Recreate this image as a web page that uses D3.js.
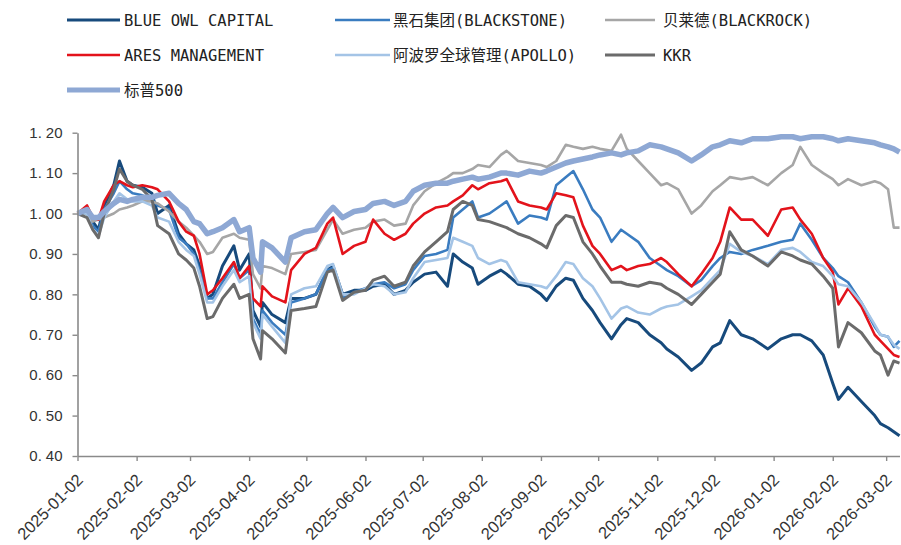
<!DOCTYPE html>
<html>
<head>
<meta charset="utf-8">
<script src="https://cdn.jsdelivr.net/npm/d3@7"></script>
<style>
body { margin: 0; background: #fff; }
</style>
</head>
<body>
<div id="chart-area"></div>
<script>
const MARGINS = { top: 132.7, right: 1, left: 77.5, bottom: 89 };
const WIDTH = 901, HEIGHT = 545;
const CHART_WIDTH = WIDTH - MARGINS.left - MARGINS.right;
const CHART_HEIGHT = HEIGHT - MARGINS.top - MARGINS.bottom;

// sample dates (roughly weekly plus turning points)
const dates = [
  "2025-01-02","2025-01-07","2025-01-10","2025-01-13","2025-01-16","2025-01-21","2025-01-24","2025-01-28","2025-01-31","2025-02-05",
  "2025-02-10","2025-02-13","2025-02-19","2025-02-24","2025-02-28","2025-03-04","2025-03-07","2025-03-11","2025-03-14","2025-03-19",
  "2025-03-25","2025-03-28","2025-04-02","2025-04-04","2025-04-08","2025-04-09","2025-04-14","2025-04-21","2025-04-24","2025-05-01",
  "2025-05-07","2025-05-13","2025-05-16","2025-05-21","2025-05-27","2025-06-02","2025-06-06","2025-06-12","2025-06-17","2025-06-23",
  "2025-06-27","2025-07-03","2025-07-09","2025-07-15","2025-07-18","2025-07-23","2025-07-28","2025-07-31","2025-08-06","2025-08-12",
  "2025-08-15","2025-08-21","2025-08-27","2025-09-02","2025-09-05","2025-09-10","2025-09-15","2025-09-19","2025-09-24","2025-09-29",
  "2025-10-03","2025-10-09","2025-10-14","2025-10-17","2025-10-23","2025-10-29","2025-11-04","2025-11-07","2025-11-13","2025-11-20",
  "2025-11-25","2025-12-01","2025-12-05","2025-12-10","2025-12-16","2025-12-22","2025-12-30","2026-01-06","2026-01-12","2026-01-16",
  "2026-01-22","2026-01-28","2026-02-02","2026-02-05","2026-02-10","2026-02-17","2026-02-24","2026-02-27","2026-03-03","2026-03-06",
  "2026-03-09"
];

const blueOwl = [
  1.00,1.01,0.98,0.96,1.02,1.07,1.13,1.08,1.07,1.065,
  1.05,1.00,1.02,0.95,0.925,0.91,0.87,0.79,0.80,0.87,
  0.92,0.86,0.90,0.76,0.72,0.78,0.75,0.73,0.79,0.79,
  0.80,0.86,0.87,0.80,0.81,0.81,0.82,0.825,0.80,0.81,
  0.83,0.85,0.855,0.82,0.90,0.88,0.865,0.825,0.845,0.86,
  0.85,0.825,0.82,0.80,0.785,0.82,0.84,0.835,0.79,0.76,
  0.73,0.69,0.725,0.74,0.73,0.70,0.68,0.665,0.645,0.612,
  0.63,0.67,0.68,0.735,0.70,0.69,0.665,0.69,0.70,0.70,
  0.685,0.65,0.58,0.54,0.57,0.535,0.50,0.48,0.47,0.46,
  0.45
];
const blackstone = [
  1.00,1.00,0.97,0.955,1.01,1.05,1.08,1.06,1.05,1.045,
  1.035,1.02,1.01,0.94,0.925,0.90,0.86,0.79,0.79,0.83,
  0.875,0.84,0.86,0.74,0.70,0.76,0.73,0.70,0.78,0.79,
  0.80,0.86,0.865,0.79,0.805,0.815,0.825,0.83,0.815,0.825,
  0.86,0.895,0.90,0.91,0.99,1.01,1.03,0.99,1.00,1.02,
  1.03,0.975,0.995,0.99,0.985,1.07,1.09,1.105,1.06,1.01,
  0.99,0.93,0.96,0.95,0.93,0.89,0.87,0.86,0.845,0.82,
  0.835,0.87,0.89,0.905,0.90,0.91,0.92,0.93,0.935,0.975,
  0.935,0.89,0.865,0.845,0.83,0.78,0.72,0.70,0.695,0.67,
  0.685
];
const blackrock = [
  1.00,1.00,0.98,0.985,0.99,1.00,1.01,1.015,1.02,1.03,
  1.03,1.025,1.005,0.98,0.965,0.945,0.93,0.90,0.905,0.94,
  0.95,0.94,0.935,0.85,0.815,0.87,0.865,0.85,0.90,0.905,
  0.91,0.96,0.985,0.95,0.96,0.965,0.98,0.985,0.97,0.975,
  1.02,1.055,1.075,1.09,1.10,1.10,1.11,1.12,1.115,1.145,
  1.155,1.13,1.125,1.12,1.115,1.13,1.17,1.165,1.16,1.165,
  1.16,1.155,1.195,1.16,1.13,1.10,1.07,1.075,1.06,1.00,
  1.02,1.055,1.07,1.09,1.085,1.09,1.07,1.10,1.12,1.165,
  1.12,1.10,1.085,1.07,1.085,1.07,1.08,1.075,1.06,0.965,
  0.965
];
const ares = [
  1.00,1.02,0.99,0.985,1.03,1.07,1.08,1.07,1.065,1.07,
  1.065,1.06,1.03,0.98,0.955,0.945,0.90,0.80,0.81,0.84,
  0.88,0.84,0.87,0.79,0.77,0.82,0.795,0.78,0.86,0.90,
  0.915,0.975,0.99,0.90,0.92,0.93,0.985,0.95,0.935,0.95,
  0.975,1.00,1.015,1.02,1.03,1.045,1.07,1.06,1.075,1.08,
  1.085,1.03,1.02,1.015,1.01,1.05,1.045,1.04,0.97,0.92,
  0.90,0.86,0.87,0.86,0.87,0.875,0.89,0.88,0.85,0.82,
  0.85,0.89,0.93,1.015,0.985,0.985,0.945,1.01,1.015,0.985,
  0.95,0.89,0.855,0.775,0.815,0.77,0.70,0.685,0.665,0.65,
  0.645
];
const apollo = [
  1.00,1.00,0.96,0.945,0.99,1.03,1.05,1.035,1.03,1.03,
  1.02,0.99,0.98,0.93,0.91,0.895,0.85,0.78,0.78,0.82,
  0.86,0.83,0.845,0.73,0.69,0.75,0.72,0.68,0.80,0.815,
  0.82,0.87,0.875,0.80,0.80,0.815,0.825,0.82,0.80,0.805,
  0.84,0.88,0.885,0.89,0.94,0.93,0.92,0.89,0.875,0.885,
  0.88,0.83,0.825,0.82,0.815,0.845,0.88,0.875,0.84,0.82,
  0.79,0.74,0.765,0.77,0.755,0.75,0.765,0.77,0.775,0.795,
  0.81,0.84,0.86,0.925,0.905,0.895,0.875,0.91,0.915,0.905,
  0.88,0.87,0.845,0.825,0.82,0.78,0.725,0.70,0.695,0.675,
  0.665
];
const kkr = [
  1.00,0.99,0.96,0.94,1.00,1.06,1.11,1.08,1.07,1.06,
  1.035,0.97,0.95,0.90,0.885,0.865,0.82,0.74,0.745,0.79,
  0.825,0.79,0.80,0.69,0.64,0.71,0.69,0.655,0.76,0.765,
  0.77,0.855,0.86,0.785,0.805,0.81,0.835,0.845,0.82,0.83,
  0.87,0.905,0.93,0.955,1.01,1.03,1.02,0.985,0.98,0.97,
  0.965,0.95,0.94,0.925,0.915,0.97,0.995,0.99,0.93,0.90,
  0.87,0.83,0.83,0.825,0.82,0.83,0.825,0.815,0.80,0.775,
  0.80,0.83,0.85,0.955,0.91,0.895,0.87,0.905,0.895,0.885,
  0.875,0.845,0.815,0.67,0.73,0.705,0.66,0.65,0.60,0.635,
  0.63
];
const sp500 = [
  1.00,1.01,0.99,0.99,1.005,1.025,1.035,1.03,1.035,1.04,
  1.04,1.045,1.05,1.025,1.01,0.98,0.975,0.95,0.955,0.965,
  0.985,0.955,0.965,0.89,0.855,0.93,0.915,0.88,0.94,0.955,
  0.96,1.00,1.015,0.99,1.005,1.01,1.025,1.03,1.02,1.03,
  1.055,1.07,1.075,1.075,1.08,1.085,1.09,1.085,1.09,1.10,
  1.10,1.095,1.105,1.10,1.105,1.115,1.125,1.13,1.135,1.14,
  1.145,1.15,1.145,1.15,1.155,1.17,1.165,1.16,1.15,1.13,
  1.145,1.165,1.17,1.18,1.175,1.185,1.185,1.19,1.19,1.185,
  1.19,1.19,1.185,1.18,1.185,1.18,1.175,1.17,1.165,1.16,
  1.152
];

const seriesNames = [
  "BLUE OWL CAPITAL", "黑石集团(BLACKSTONE)", "贝莱德(BLACKROCK)",
  "ARES MANAGEMENT", "阿波罗全球管理(APOLLO)", "KKR",
  "标普500"
];
const seriesValues = [blueOwl, blackstone, blackrock, ares, apollo, kkr, sp500];
const seriesColors = ["#174a7c", "#3a7cc0", "#a6a6a6", "#e3131b", "#a4c4e6", "#6b6b6b", "#8ea8d4"];
const seriesWidths = [3, 2.6, 2.6, 2.6, 2.6, 3, 5.5];

const yTicks = [0.4, 0.5, 0.6, 0.7, 0.8, 0.9, 1.0, 1.1, 1.2];
const xTickLabels = [
  "2025-01-02","2025-02-02","2025-03-02","2025-04-02","2025-05-02","2025-06-02","2025-07-02",
  "2025-08-02","2025-09-02","2025-10-02","2025-11-02","2025-12-02","2026-01-02","2026-02-02","2026-03-02"
];

const parseDate = d3.timeParse("%Y-%m-%d");
const fmtDate = d3.timeFormat("%Y-%m-%d");
const fmtY = d3.format(".2f");

const svg = d3.select('#chart-area')
  .append('svg')
  .attr('width', WIDTH)
  .attr('height', HEIGHT)
  .style('display', 'block');

const g = svg.append('g')
  .attr('transform', `translate(${MARGINS.left}, ${MARGINS.top})`);

const xScale = d3.scaleTime()
  .domain([parseDate("2025-01-02"), parseDate("2026-03-09")])
  .range([0, CHART_WIDTH - 0.5]);

const yScale = d3.scaleLinear()
  .domain([0.4, 1.2])
  .range([CHART_HEIGHT, 0]);

// lines
const line = d3.line()
  .x((d, i) => xScale(parseDate(dates[i])))
  .y(d => yScale(d));

g.selectAll('path.series')
  .data(seriesValues)
  .enter()
  .append('path')
  .attr('class', 'series')
  .attr('d', d => line(d))
  .attr('fill', 'none')
  .attr('stroke', (d, i) => seriesColors[i])
  .attr('stroke-width', (d, i) => seriesWidths[i])
  .attr('stroke-linejoin', 'round');

// axes
const axisColor = '#8a8a8a';

const yAxisCall = d3.axisLeft(yScale)
  .tickValues(yTicks)
  .tickSize(5)
  .tickSizeOuter(0)
  .tickPadding(10)
  .tickFormat(fmtY);
const yAxisGroup = g.append('g').attr('class', 'y axis').call(yAxisCall);

const xAxisCall = d3.axisBottom(xScale)
  .tickValues(xTickLabels.map(parseDate))
  .tickSize(5)
  .tickSizeOuter(0)
  .tickFormat(fmtDate);
const xAxisGroup = g.append('g').attr('class', 'x axis')
  .attr('transform', `translate(0, ${CHART_HEIGHT})`)
  .call(xAxisCall);

[xAxisGroup, yAxisGroup].forEach(ax => {
  ax.select('.domain').attr('stroke', axisColor).attr('stroke-width', 1.6);
  ax.selectAll('.tick line').attr('stroke', axisColor).attr('stroke-width', 1.4);
});

// y labels: the source font leaves a gap after the decimal point ("1. 20")
yAxisGroup.selectAll('.tick text')
  .attr('font-family', 'Liberation Sans, Arial, sans-serif')
  .attr('font-size', '15px')
  .attr('fill', '#333')
  .text(null)
  .each(function (d) {
    const parts = fmtY(d).split('.');
    const t = d3.select(this);
    t.append('tspan').text(parts[0] + '.');
    t.append('tspan').attr('dx', 4).text(parts[1]);
  });

xAxisGroup.selectAll('.tick text')
  .attr('font-family', 'Liberation Sans, Arial, sans-serif')
  .attr('font-size', '16.5px')
  .attr('fill', '#333')
  .attr('text-anchor', 'end')
  .attr('dy', 0)
  .attr('y', 0)
  .attr('transform', 'translate(6, 25) rotate(-45)');

// legend
const legendColX = [67, 335, 605];
const legendLineLen = [53, 55, 50];
const legendTextGap = [4, 3, 8];
const legendRowY = [20, 55, 90];

const legend = svg.append('g').attr('class', 'legend');
const items = legend.selectAll('g.item')
  .data(seriesNames)
  .enter()
  .append('g')
  .attr('class', 'item')
  .attr('transform', (d, i) => `translate(${legendColX[i % 3]}, ${legendRowY[Math.floor(i / 3)]})`);

items.append('line')
  .attr('x1', 0)
  .attr('x2', (d, i) => legendLineLen[i % 3])
  .attr('y1', 0)
  .attr('y2', 0)
  .attr('stroke', (d, i) => seriesColors[i])
  .attr('stroke-width', (d, i) => Math.min(seriesWidths[i], 5));

items.append('text')
  .attr('x', (d, i) => legendLineLen[i % 3] + legendTextGap[i % 3])
  .attr('y', 0)
  .attr('dy', '0.36em')
  .attr('font-family', '"DejaVu Sans Mono", "Noto Sans CJK SC", monospace')
  .attr('font-size', '15.5px')
  .attr('fill', '#222')
  .text(d => d);
</script>
</body>
</html>
